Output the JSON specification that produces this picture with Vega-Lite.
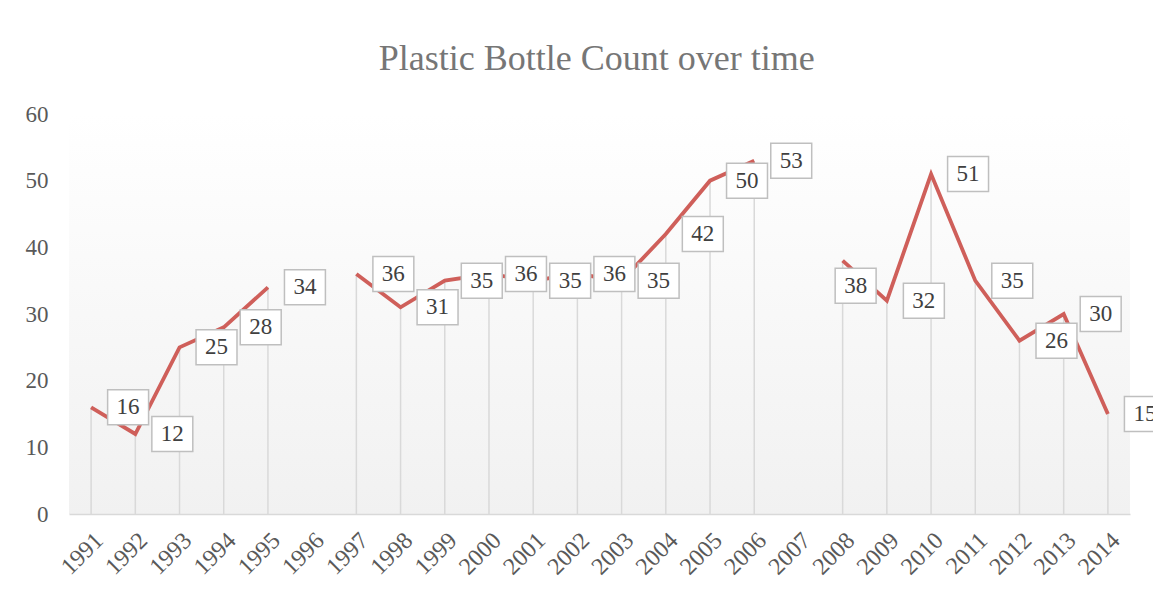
{
  "$schema": "https://vega.github.io/schema/vega-lite/v6.json",
  "autosize": {"type": "none"},
  "width": 1061,
  "height": 400,
  "padding": {"left": 69, "top": 114, "right": 23, "bottom": 78},
  "background": "#ffffff",
  "title": {
    "text": "Plastic Bottle Count over time",
    "font": "Liberation Serif",
    "fontSize": 36,
    "fontWeight": "normal",
    "color": "#767676",
    "anchor": "middle",
    "frame": "bounds",
    "offset": 25
  },
  "config": {
    "view": {
      "stroke": null,
      "fill": {
        "gradient": "linear",
        "x1": 0, "y1": 0, "x2": 0, "y2": 1,
        "stops": [
          {"offset": 0, "color": "#ffffff"},
          {"offset": 1, "color": "#f1f1f1"}
        ]
      }
    },
    "axis": {
      "labelFont": "Liberation Serif",
      "labelFontSize": 23,
      "labelColor": "#595959",
      "ticks": false,
      "grid": false,
      "title": null
    }
  },
  "data": {
    "values": [
      {"year": "1991", "count": 16},
      {"year": "1992", "count": 12},
      {"year": "1993", "count": 25},
      {"year": "1994", "count": 28},
      {"year": "1995", "count": 34},
      {"year": "1996", "count": null},
      {"year": "1997", "count": 36},
      {"year": "1998", "count": 31},
      {"year": "1999", "count": 35},
      {"year": "2000", "count": 36},
      {"year": "2001", "count": 35},
      {"year": "2002", "count": 36},
      {"year": "2003", "count": 35},
      {"year": "2004", "count": 42},
      {"year": "2005", "count": 50},
      {"year": "2006", "count": 53},
      {"year": "2007", "count": null},
      {"year": "2008", "count": 38},
      {"year": "2009", "count": 32},
      {"year": "2010", "count": 51},
      {"year": "2011", "count": 35},
      {"year": "2012", "count": 26},
      {"year": "2013", "count": 30},
      {"year": "2014", "count": 15}
    ]
  },
  "encoding": {
    "x": {
      "field": "year",
      "type": "ordinal",
      "scale": {"paddingInner": 0, "paddingOuter": 0},
      "axis": {
        "labelAngle": -45,
        "labelPadding": 14,
        "labelFontSize": 24,
        "domainColor": "#d9d9d9",
        "domainWidth": 1.5
      }
    },
    "y": {
      "field": "count",
      "type": "quantitative",
      "scale": {"domain": [0, 60], "nice": false},
      "axis": {"values": [0, 10, 20, 30, 40, 50, 60], "domain": false, "labelPadding": 21}
    }
  },
  "layer": [
    {
      "transform": [{"filter": "isValid(datum.count)"}],
      "mark": {"type": "rule", "color": "#d9d9d9", "strokeWidth": 1.5},
      "encoding": {"y2": {"datum": 0}}
    },
    {
      "mark": {"type": "line", "color": "#cf5f5a", "strokeWidth": 3.8, "invalid": "break-paths-show-domains", "strokeJoin": "miter"},
      "encoding": {}
    },
    {
      "transform": [{"filter": "isValid(datum.count) && datum.year != '2008'"}],
      "mark": {"type": "point", "shape": "M-1.17,-1H1.17V1H-1.17Z", "size": 1225, "filled": true, "fill": "#ffffff", "stroke": "#bfbfbf", "strokeWidth": 1.5, "opacity": 1, "xOffset": 37}
    },
    {
      "transform": [{"filter": "isValid(datum.count) && datum.year != '2008'"}],
      "mark": {"type": "text", "font": "Liberation Serif", "fontSize": 23, "color": "#404040", "dx": 37, "baseline": "middle", "align": "center"},
      "encoding": {"text": {"field": "count", "type": "quantitative"}}
    },
    {
      "transform": [{"filter": "datum.year == '2008'"}],
      "mark": {"type": "point", "shape": "M-1.17,-1H1.17V1H-1.17Z", "size": 1225, "filled": true, "fill": "#ffffff", "stroke": "#bfbfbf", "strokeWidth": 1.5, "opacity": 1, "xOffset": 13, "yOffset": 25}
    },
    {
      "transform": [{"filter": "datum.year == '2008'"}],
      "mark": {"type": "text", "font": "Liberation Serif", "fontSize": 23, "color": "#404040", "dx": 13, "dy": 25, "baseline": "middle", "align": "center"},
      "encoding": {"text": {"field": "count", "type": "quantitative"}}
    }
  ]
}
